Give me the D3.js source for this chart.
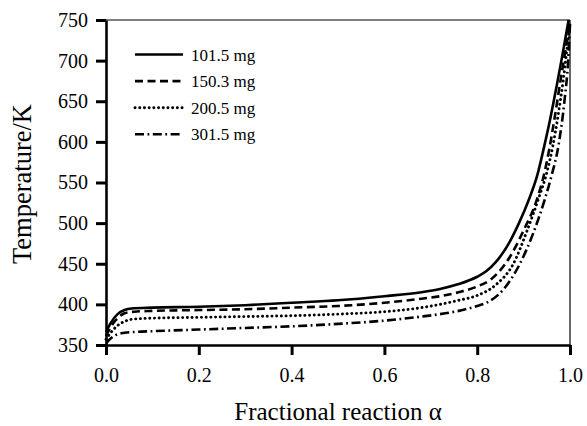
<!DOCTYPE html>
<html><head><meta charset="utf-8">
<script src="https://cdn.jsdelivr.net/npm/d3@7"></script>
<style>body{margin:0;background:#fff}svg{display:block}text{font-family:"Liberation Serif","Times New Roman",serif;fill:#000}</style>
</head><body><svg id="c" width="587" height="426"></svg>
<script>
const xTicks = [0.0, 0.2, 0.4, 0.6, 0.8, 1.0];
const yTicks = [350, 400, 450, 500, 550, 600, 650, 700, 750];
const seriesNames = ["101.5 mg", "150.3 mg", "200.5 mg", "301.5 mg"];
const s101 = [[0,366],[0.01,377],[0.025,388],[0.04,393],[0.055,395],[0.1,396],[0.2,397],[0.3,399],[0.4,402],[0.5,405],[0.6,410],[0.68,415],[0.72,419],[0.76,425],[0.8,434],[0.82,441],[0.84,452],[0.865,472],[0.89,500],[0.91,527],[0.93,560],[0.945,596],[0.958,630],[0.971,668],[0.984,708],[0.997,750]];
const s150 = [[0,361],[0.01,372],[0.025,383],[0.04,389],[0.06,391],[0.1,392],[0.2,393],[0.3,394],[0.4,396],[0.5,398],[0.6,402],[0.68,407],[0.72,410],[0.76,415],[0.8,422],[0.83,431],[0.87,458],[0.9,491],[0.928,528],[0.942,555],[0.955,590],[0.967,630],[0.978,670],[0.99,712],[1.0,748]];
const s200 = [[0,357],[0.01,365],[0.025,374],[0.04,379],[0.06,382],[0.1,383],[0.2,384],[0.3,385],[0.4,386],[0.5,388],[0.6,391],[0.68,396],[0.72,400],[0.76,405],[0.8,411],[0.84,424],[0.878,450],[0.907,490],[0.935,535],[0.95,562],[0.963,595],[0.975,635],[0.985,674],[0.993,712],[1.0,747]];
const s301 = [[0,352],[0.01,358],[0.02,362],[0.04,365],[0.06,366],[0.1,367],[0.2,369],[0.3,371],[0.4,373],[0.5,376],[0.6,380],[0.68,385],[0.72,388],[0.76,392],[0.8,398],[0.82,402],[0.856,418],[0.892,450],[0.921,488],[0.945,528],[0.96,558],[0.975,595],[0.988,650],[0.996,700],[1.0,745]];
const seriesData = [s101, s150, s200, s301];
const dashes = ["none", "8,4.5", "0.1,4.6", "9,3.5,1.8,3.5"];

const svg = d3.select("#c");
const m = {l:106, r:570, t:20, b:345};
const x = d3.scaleLinear().domain([0,1]).range([m.l, m.r]);
const y = d3.scaleLinear().domain([350,750]).range([m.b, m.t]);

svg.append("line").attr("x1",m.l).attr("x2",m.r).attr("y1",m.t).attr("y2",m.t).attr("stroke","#000").attr("stroke-width",1.2);
svg.append("line").attr("x1",m.r).attr("x2",m.r).attr("y1",m.t).attr("y2",m.b).attr("stroke","#000").attr("stroke-width",1.2);

const line = d3.line().x(d=>x(d[0])).y(d=>y(d[1])).curve(d3.curveMonotoneX);
seriesData.forEach((s,i)=>{
  svg.append("path").datum(s).attr("d",line).attr("fill","none").attr("stroke","#000")
    .attr("stroke-width",i===2?2.9:2.6).attr("stroke-dasharray",dashes[i]).attr("stroke-linecap", i===2?"round":"butt");
});

const xAxis = svg.append("g").attr("transform",`translate(0,${m.b})`)
  .call(d3.axisBottom(x).tickValues(xTicks).tickFormat(d3.format(".1f")).tickSize(10).tickSizeOuter(0).tickPadding(13));
const yAxis = svg.append("g").attr("transform",`translate(${m.l},0)`)
  .call(d3.axisLeft(y).tickValues(yTicks).tickSize(10).tickSizeOuter(0).tickPadding(8));
[xAxis,yAxis].forEach(g=>{
  g.select(".domain").attr("stroke","#000").attr("stroke-width",2.6);
  g.selectAll(".tick line").attr("stroke","#000").attr("stroke-width",3);
  g.selectAll(".tick text").attr("font-family","Liberation Serif").attr("font-size",20).attr("fill","#000");
});

const lg = svg.append("g");
seriesNames.forEach((n,i)=>{
  const yy = 54.5 + i*26.6;
  lg.append("line").attr("x1",135).attr("x2",183).attr("y1",yy).attr("y2",yy).attr("stroke","#000")
    .attr("stroke-width",i===2?2.9:2.6).attr("stroke-dasharray",dashes[i]).attr("stroke-linecap", i===2?"round":"butt");
  lg.append("text").attr("x",191).attr("y",yy+6).attr("font-size",17).text(n);
});

svg.append("text").attr("x",338).attr("y",420).attr("text-anchor","middle").attr("font-size",25).text("Fractional reaction α");
svg.append("text").attr("transform","translate(31,184) rotate(-90)").attr("text-anchor","middle").attr("font-size",26.5).text("Temperature/K");
</script></body></html>
